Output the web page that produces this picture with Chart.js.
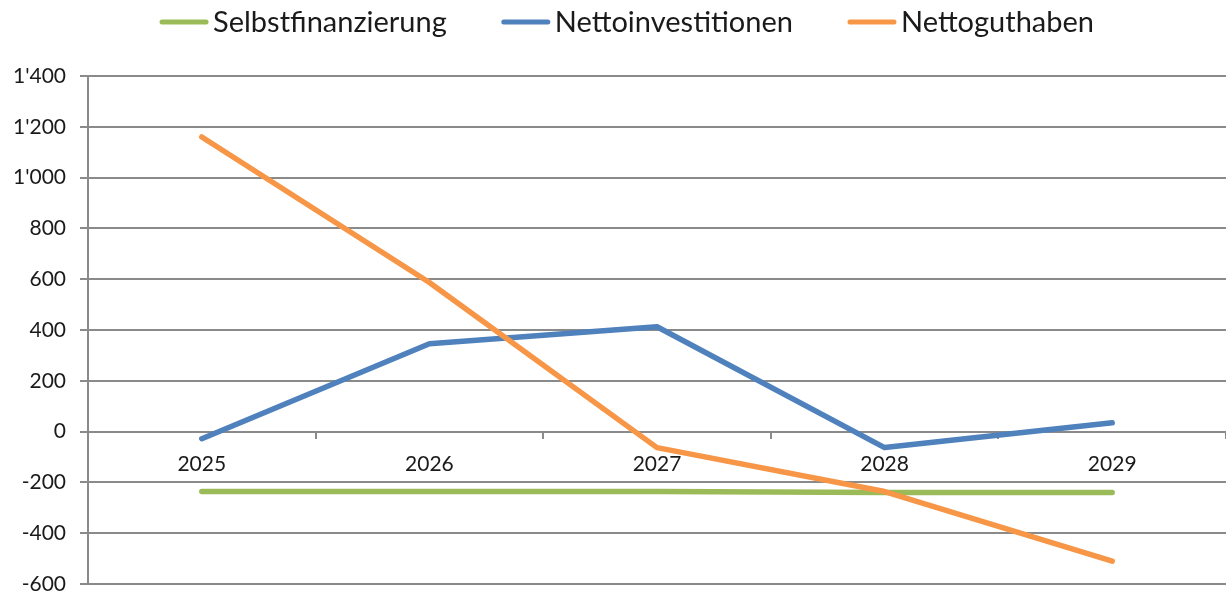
<!DOCTYPE html>
<html>
<head>
<meta charset="utf-8">
<script src="https://cdn.jsdelivr.net/npm/chart.js@4.4.1/dist/chart.umd.min.js"></script>
<style>
  html, body { margin: 0; padding: 0; background: #fff; }
  #wrap { width: 1226px; height: 593px; }
</style>
</head>
<body>
<div id="wrap"><canvas id="myChart"></canvas></div>
<script>
'use strict';

// Data
const years = ['2025', '2026', '2027', '2028', '2029'];
const selbstfinanzierung = [-236, -236, -236, -240, -240];
const nettoinvestitionen = [-28, 346, 413, -63, 35];
const nettoguthaben = [1160, 587, -63, -236, -510];

const yMin = -600;
const yMax = 1400;
const yStep = 200;

const gridGray = '#8a8a8a';
const textColor = '#1a1a1a';

// 1400 -> 1'400
function swissNumber(value) {
  let s = String(Math.abs(value));
  s = s.replace(/\B(?=(\d{3})+(?!\d))/g, '\'');
  return (value < 0 ? '-' : '') + s;
}

// legend drawn by hand, so the line sample sits close to the text like in Excel
const lineLegend = {
  id: 'lineLegend',
  afterDraw(chart) {
    const ctx = chart.ctx;
    const sets = chart.data.datasets;
    const lineLen = 48;
    const gap = 5;
    const spacing = 55;
    ctx.save();
    ctx.font = '29px Lato';
    let total = 0;
    sets.forEach((ds, i) => {
      total += lineLen + gap + ctx.measureText(ds.label).width;
      if (i > 0) total += spacing;
    });
    let x = 627 - total / 2;
    const y = 22;
    ctx.textBaseline = 'middle';
    ctx.textAlign = 'left';
    sets.forEach((ds) => {
      ctx.strokeStyle = ds.borderColor;
      ctx.lineWidth = 5;
      ctx.lineCap = 'round';
      ctx.beginPath();
      ctx.moveTo(x + 2, y);
      ctx.lineTo(x + lineLen - 2, y);
      ctx.stroke();
      x += lineLen + gap;
      ctx.fillStyle = textColor;
      ctx.fillText(ds.label, x, y + 1);
      x += ctx.measureText(ds.label).width + spacing;
    });
    ctx.restore();
  }
};

function lineSet(label, data, color, order) {
  return {
    label: label,
    data: data,
    borderColor: color,
    backgroundColor: color,
    borderWidth: 5.5,
    borderCapStyle: 'round',
    borderJoinStyle: 'round',
    pointRadius: 0,
    tension: 0,
    order: order
  };
}

const ctx = document.getElementById('myChart');

let config = {
  type: 'line',
  data: {
    labels: years,
    datasets: [
      lineSet('Selbstfinanzierung', selbstfinanzierung, '#9bbb59', 3),
      lineSet('Nettoinvestitionen', nettoinvestitionen, '#4f81bd', 2),
      lineSet('Nettoguthaben', nettoguthaben, '#f79646', 1)
    ]
  },
  options: {
    responsive: true,
    maintainAspectRatio: false,
    animation: false,
    layout: {
      padding: { top: 76, right: 0, bottom: 9, left: 0 }
    },
    plugins: {
      legend: { display: false },
      tooltip: { enabled: false }
    },
    scales: {
      x: {
        position: { y: 0 },
        offset: true,
        grid: {
          offset: true,
          drawOnChartArea: false,
          drawTicks: true,
          tickLength: 6,
          color: gridGray,
          lineWidth: 2
        },
        border: { display: true, color: gridGray, width: 2 },
        ticks: {
          color: textColor,
          font: { family: 'Lato', size: 21 },
          padding: 14,
          maxRotation: 0
        }
      },
      y: {
        min: yMin,
        max: yMax,
        afterFit(scale) {
          scale.width = 88;
          // the -600 label may hang below the plot, as in the original
          scale.paddingBottom = 0;
        },
        grid: {
          color: gridGray,
          lineWidth: 2,
          tickLength: 8
        },
        border: { display: true, color: gridGray, width: 2 },
        ticks: {
          stepSize: yStep,
          color: textColor,
          font: { family: 'Lato', size: 21, lineHeight: 0.8 },
          padding: 14,
          callback: (value) => swissNumber(value)
        }
      }
    }
  },
  plugins: [lineLegend]
};

let chart = new Chart(ctx, config);
</script>
</body>
</html>
